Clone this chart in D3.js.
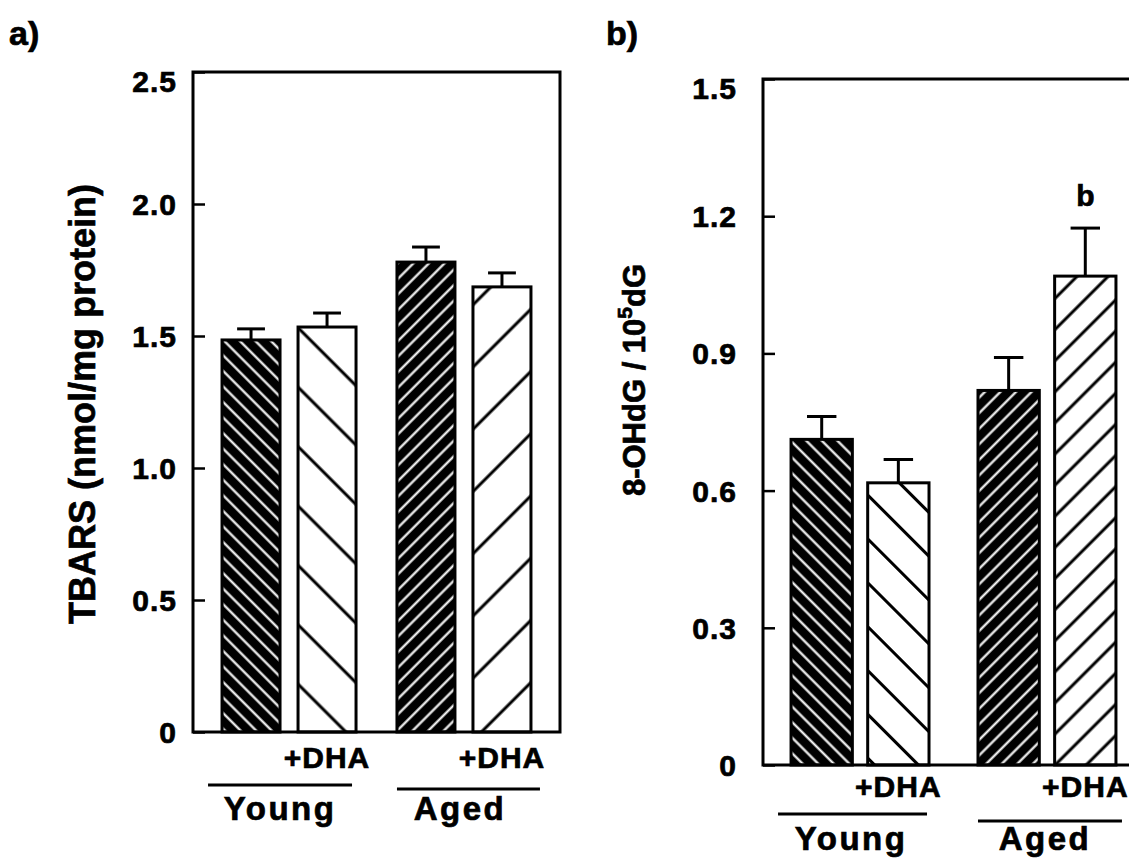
<!DOCTYPE html>
<html>
<head>
<meta charset="utf-8">
<script src="https://cdn.jsdelivr.net/npm/d3@7"></script>
<style>
  body { margin: 0; background: #fff; }
  text { font-family: "Liberation Sans", Arial, sans-serif; font-weight: bold; fill: #000; stroke: #000; stroke-width: 0.7; }
</style>
</head>
<body>
<div class="chart"></div>
<script>
// data
const groups = ["Young", "Aged"];
const treatments = ["Control", "+DHA"];
// panel a: TBARS (nmol/mg protein)
const tbarsMean = [1.485, 1.534, 1.78, 1.686];
const tbarsErr = [0.042, 0.053, 0.057, 0.053];
const tbarsTicks = [0, 0.5, 1.0, 1.5, 2.0, 2.5];
// panel b: 8-OHdG / 10^5 dG
const ohdgMean = [0.712, 0.617, 0.819, 1.069];
const ohdgErr = [0.05, 0.051, 0.072, 0.105];
const ohdgTicks = [0, 0.3, 0.6, 0.9, 1.2, 1.5];
const ohdgSig = ["", "", "", "b"];

const W = 1129, H = 859;
const svg = d3.select(".chart").append("svg")
    .attr("width", W)
    .attr("height", H);

// hatch patterns
const defs = svg.append("defs");
const hatch = (id, bg, fg, gap, lw, angle) => {
    const p = defs.append("pattern")
        .attr("id", id)
        .attr("patternUnits", "userSpaceOnUse")
        .attr("width", gap)
        .attr("height", gap)
        .attr("patternTransform", `rotate(${angle})`);
    p.append("rect").attr("width", gap).attr("height", gap).attr("fill", bg);
    p.append("line")
        .attr("x1", 0).attr("x2", gap)
        .attr("y1", gap / 2).attr("y2", gap / 2)
        .attr("stroke", fg)
        .attr("stroke-width", lw);
};
hatch("darkBack", "#000", "#fff", 11, 2.2, 45);
hatch("darkFwd", "#000", "#fff", 11, 2.2, -45);
hatch("aLightBack", "#fff", "#000", 42, 3, 45);
hatch("aLightFwd", "#fff", "#000", 44, 3, -45);
hatch("bLightBack", "#fff", "#000", 31, 3, 45);
hatch("bLightFwd", "#fff", "#000", 22, 3, -45);

const tickFmt = d => d === 0 ? "0" : d3.format(".1f")(d);

const drawPanel = (cfg) => {
    const rows = [];
    groups.forEach((g, gi) => treatments.forEach((t, ti) => {
        const i = gi * 2 + ti;
        rows.push({ group: g, treat: t, mean: cfg.mean[i], err: cfg.err[i], sig: cfg.sig ? cfg.sig[i] : "", i });
    }));

    const x0 = d3.scaleBand().domain(groups)
        .range([cfg.left, cfg.right])
        .paddingInner(cfg.outerPadIn)
        .paddingOuter(cfg.outerPadOut);
    const x1 = d3.scaleBand().domain(treatments)
        .range([0, x0.bandwidth()])
        .paddingInner(cfg.innerPad);
    const y = d3.scaleLinear().domain(cfg.domain).range([cfg.bottom, cfg.top]);
    const bx = d => x0(d.group) + x1(d.treat);

    const g = svg.append("g");

    // y axis, ticks pointing inward
    g.append("g")
        .attr("transform", `translate(${cfg.left},0)`)
        .call(d3.axisLeft(y)
            .tickValues(cfg.ticks)
            .tickFormat(tickFmt)
            .tickSizeInner(-12)
            .tickSizeOuter(0)
            .tickPadding(cfg.tickPad))
        .call(a => a.select(".domain").remove())
        .call(a => a.selectAll("line").attr("stroke", "#000").attr("stroke-width", 2.5))
        .call(a => a.selectAll("text")
            .attr("font-size", 30)
            .attr("letter-spacing", 1)
            .attr("dy", (d, k) => k === cfg.ticks.length - 1 ? "0.65em" : "0.35em"));

    // bars
    g.selectAll("rect.bar")
        .data(rows)
        .join("rect")
            .attr("class", "bar")
            .attr("x", bx)
            .attr("y", d => y(d.mean))
            .attr("width", x1.bandwidth())
            .attr("height", d => y(0) - y(d.mean))
            .attr("fill", d => `url(#${cfg.fills[d.i]})`)
            .attr("stroke", "#000")
            .attr("stroke-width", 3);

    // upper error bars
    const cap = x1.bandwidth() * 0.48;
    g.selectAll("line.err")
        .data(rows)
        .join("line")
            .attr("class", "err")
            .attr("x1", d => bx(d) + x1.bandwidth() / 2)
            .attr("x2", d => bx(d) + x1.bandwidth() / 2)
            .attr("y1", d => y(d.mean))
            .attr("y2", d => y(d.mean + d.err))
            .attr("stroke", "#000").attr("stroke-width", 3);
    g.selectAll("line.cap")
        .data(rows)
        .join("line")
            .attr("class", "cap")
            .attr("x1", d => bx(d) + x1.bandwidth() / 2 - cap / 2)
            .attr("x2", d => bx(d) + x1.bandwidth() / 2 + cap / 2)
            .attr("y1", d => y(d.mean + d.err))
            .attr("y2", d => y(d.mean + d.err))
            .attr("stroke", "#000").attr("stroke-width", 3);

    // significance letters
    g.selectAll("text.sig")
        .data(rows.filter(d => d.sig))
        .join("text")
            .attr("class", "sig")
            .attr("x", d => bx(d) + x1.bandwidth() / 2)
            .attr("y", d => y(d.mean + d.err) - 22)
            .attr("text-anchor", "middle")
            .attr("font-size", 30)
            .text(d => d.sig);

    // frame
    g.append("rect")
        .attr("x", cfg.left).attr("y", cfg.top)
        .attr("width", cfg.right - cfg.left)
        .attr("height", cfg.bottom - cfg.top)
        .attr("fill", "none")
        .attr("stroke", "#000")
        .attr("stroke-width", 3);

    // +DHA labels under the treated bars
    g.selectAll("text.trt")
        .data(rows.filter(d => d.treat === "+DHA"))
        .join("text")
            .attr("class", "trt")
            .attr("x", d => bx(d) + x1.bandwidth() / 2)
            .attr("y", cfg.bottom + cfg.trtDy)
            .attr("text-anchor", "middle")
            .attr("font-size", 30)
            .attr("letter-spacing", 1)
            .text(d => d.treat);

    // group rules and names
    groups.forEach((gr, gi) => {
        g.append("line")
            .attr("x1", x0(gr) + cfg.ruleShift[gi][0])
            .attr("x2", x0(gr) + x0.bandwidth() + cfg.ruleShift[gi][1])
            .attr("y1", cfg.bottom + cfg.ruleDy[gi])
            .attr("y2", cfg.bottom + cfg.ruleDy[gi])
            .attr("stroke", "#000").attr("stroke-width", 3);
        g.append("text")
            .attr("x", x0(gr) + x0.bandwidth() / 2 + cfg.nameShift[gi])
            .attr("y", cfg.bottom + cfg.nameDy)
            .attr("text-anchor", "middle")
            .attr("font-size", 33)
            .attr("letter-spacing", 2.5)
            .text(gr);
    });

    // panel letter
    svg.append("text")
        .attr("x", cfg.letterX).attr("y", 45)
        .attr("font-size", 34)
        .text(cfg.letter);
};

drawPanel({
    letter: "a)", letterX: 9,
    mean: tbarsMean, err: tbarsErr, ticks: tbarsTicks, domain: [0, 2.5],
    left: 193, right: 560, top: 72, bottom: 732,
    outerPadIn: 0.234, outerPadOut: 0.166, innerPad: 0.237,
    tickPad: 16,
    fills: ["darkBack", "aLightBack", "darkFwd", "aLightFwd"],
    trtDy: 36, ruleDy: [53, 57], ruleShift: [[-14, -4], [0, 9]],
    nameDy: 88, nameShift: [-9, -4]
});

drawPanel({
    letter: "b)", letterX: 606,
    mean: ohdgMean, err: ohdgErr, sig: ohdgSig, ticks: ohdgTicks, domain: [0, 1.5],
    left: 763, right: 1144, top: 79, bottom: 765,
    outerPadIn: 0.262, outerPadOut: 0.15, innerPad: 0.2,
    tickPad: 26,
    fills: ["darkBack", "bLightBack", "darkFwd", "bLightFwd"],
    trtDy: 32, ruleDy: [49, 56], ruleShift: [[-13, -2], [0, 6]],
    nameDy: 85, nameShift: [-9, -2]
});

// y axis titles
svg.append("text")
    .attr("transform", "translate(95,404) rotate(-90)")
    .attr("text-anchor", "middle")
    .attr("font-size", 36)
    .attr("stroke-width", 0.3)
    .text("TBARS (nmol/mg protein)");

const yt = svg.append("text")
    .attr("transform", "translate(645,380) rotate(-90)")
    .attr("text-anchor", "middle")
    .attr("font-size", 31)
    .attr("stroke-width", 0.3);
yt.append("tspan").text("8-OHdG / 10");
yt.append("tspan").attr("dy", -13).attr("font-size", 21).text("5");
yt.append("tspan").attr("dy", 13).text("dG");
</script>
</body>
</html>
